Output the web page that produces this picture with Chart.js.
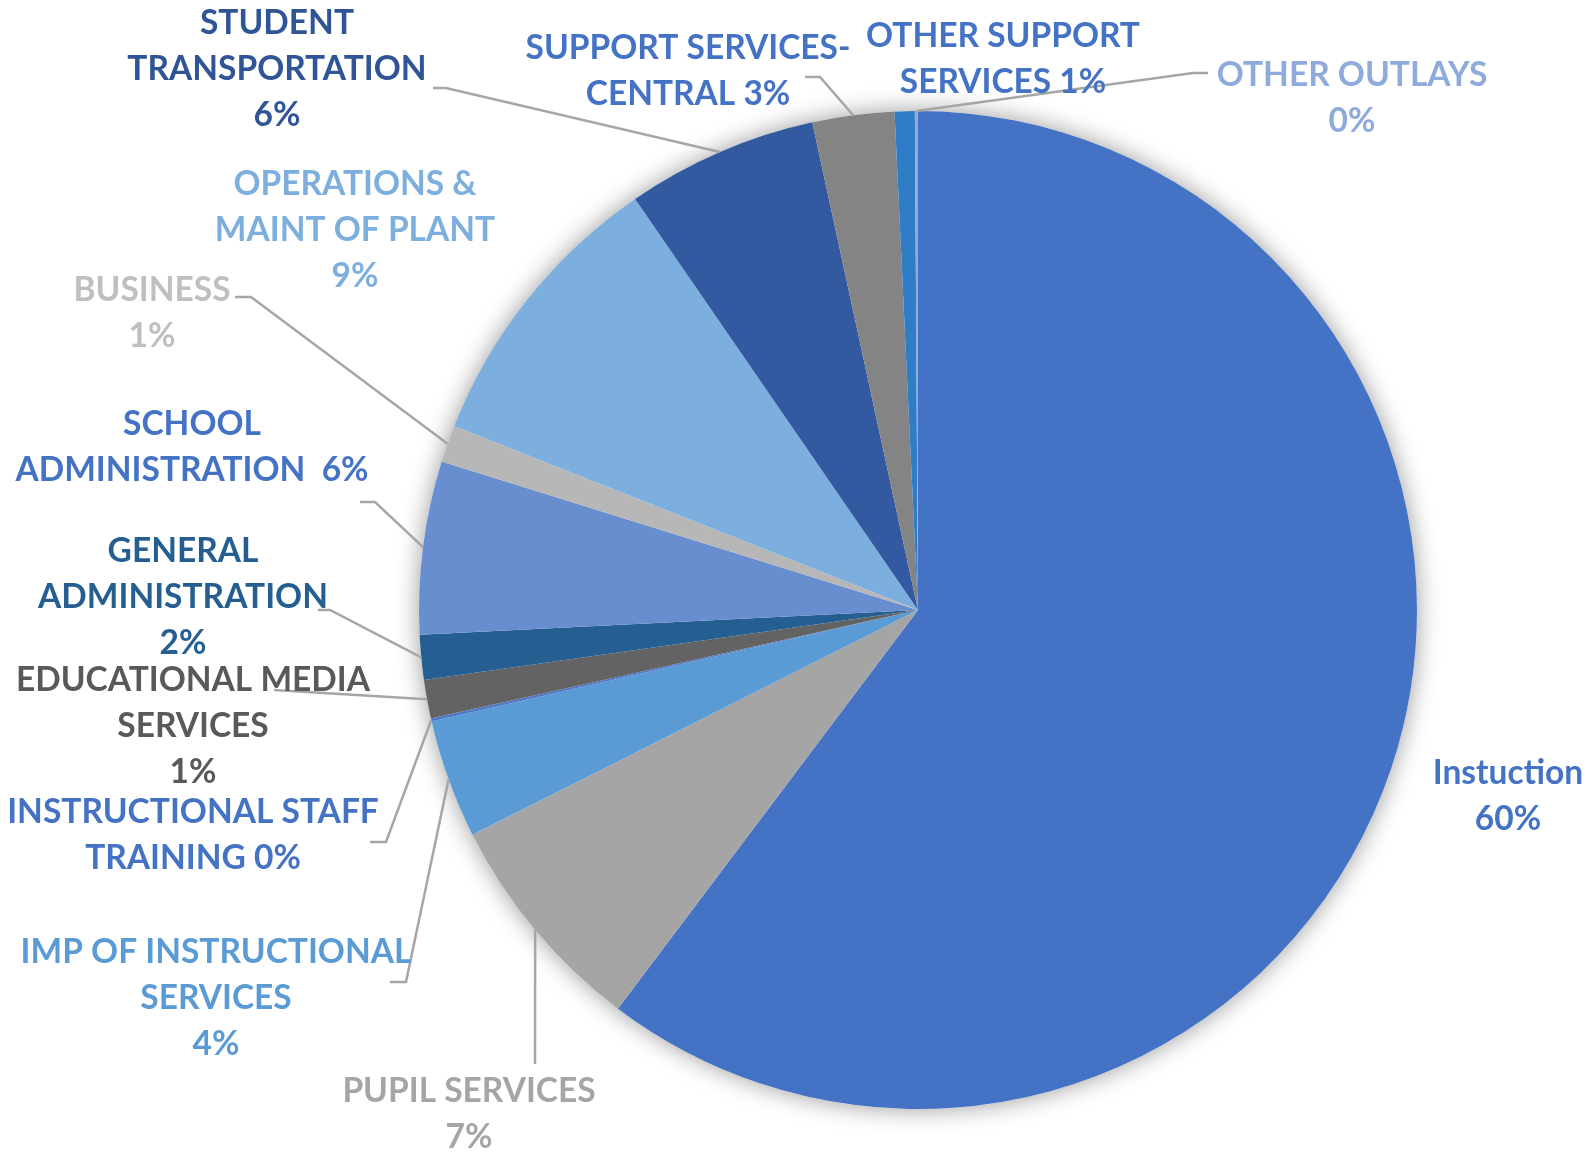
<!DOCTYPE html>
<html lang="en">
<head>
<meta charset="UTF-8">
<title>Expenditures by Function</title>
<script src="https://cdn.jsdelivr.net/npm/chart.js"></script>
<style>
  html, body { margin: 0; padding: 0; background: #fff; }
  canvas { display: block; }
</style>
</head>
<body>
<canvas id="pieChart" width="1591" height="1152"></canvas>
<script>
// slices, clockwise from 12 o'clock
const categories = [
    "Instuction",
    "PUPIL SERVICES",
    "IMP OF INSTRUCTIONAL SERVICES",
    "INSTRUCTIONAL STAFF TRAINING",
    "EDUCATIONAL MEDIA SERVICES",
    "GENERAL ADMINISTRATION",
    "SCHOOL ADMINISTRATION",
    "BUSINESS",
    "OPERATIONS & MAINT OF PLANT",
    "STUDENT TRANSPORTATION",
    "SUPPORT SERVICES-CENTRAL",
    "OTHER SUPPORT SERVICES",
    "OTHER OUTLAYS"
];
const shares = [60.3, 7.3, 3.85, 0.1, 1.25, 1.45, 5.6, 1.2, 9.4, 6.2, 2.65, 0.65, 0.1];
const pctLabels = ["60%", "7%", "4%", "0%", "1%", "2%", "6%", "1%", "9%", "6%", "3%", "1%", "0%"];

// how each label is broken into lines on the picture
const labelLines = [
    ["Instuction", "60%"],
    ["PUPIL SERVICES", "7%"],
    ["IMP OF INSTRUCTIONAL", "SERVICES", "4%"],
    ["INSTRUCTIONAL STAFF", "TRAINING 0%"],
    ["EDUCATIONAL MEDIA", "SERVICES", "1%"],
    ["GENERAL", "ADMINISTRATION", "2%"],
    ["SCHOOL", "ADMINISTRATION  6%"],
    ["BUSINESS", "1%"],
    ["OPERATIONS &", "MAINT OF PLANT", "9%"],
    ["STUDENT", "TRANSPORTATION", "6%"],
    ["SUPPORT SERVICES-", "CENTRAL 3%"],
    ["OTHER SUPPORT", "SERVICES 1%"],
    ["OTHER OUTLAYS", "0%"]
];

const sliceColors = [
    "#4472C4", "#A5A5A5", "#5B9BD5", "#4E79C9", "#636363", "#255E91", "#698ED0",
    "#B7B7B7", "#7CAFDD", "#335AA1", "#848484", "#2E7DC6", "#8FAADC"
];
const textColors = [
    "#4472C4", "#A5A5A5", "#5B9BD5", "#4472C4", "#595959", "#255E91", "#4472C4",
    "#BFBFBF", "#7CAFDD", "#2F5597", "#4472C4", "#4472C4", "#8FAADC"
];

// label placement: centre x, first line y, leader start & elbow (end = slice edge)
const labelPos = [
    { x: 1508, y: 773 },
    { x: 469, y: 1091, lead: [[535, 1064]] },
    { x: 216, y: 952, lead: [[390, 982], [406, 982]] },
    { x: 193, y: 812, lead: [[370, 842], [386, 842]] },
    { x: 193, y: 680, lead: [[274, 690]] },
    { x: 183, y: 551, lead: [[318, 610], [330, 610]] },
    { x: 192, y: 424, lead: [[360, 502], [375, 502]] },
    { x: 152, y: 290, lead: [[235, 297], [251, 297]] },
    { x: 355, y: 184 },
    { x: 277, y: 23, lead: [[433, 88], [446, 88]] },
    { x: 688, y: 48, lead: [[805, 77], [820, 77]] },
    { x: 1003, y: 36 },
    { x: 1352, y: 75, lead: [[1208, 73], [1193, 73]] }
];

const pieShadow = {
    id: "pieShadow",
    beforeDatasetsDraw(chart) {
        const arc = chart.getDatasetMeta(0).data[0];
        const ctx = chart.ctx;
        ctx.save();
        ctx.shadowColor = "rgba(0,0,0,0.4)";
        ctx.shadowBlur = 24;
        ctx.beginPath();
        ctx.arc(arc.x, arc.y, arc.outerRadius, 0, Math.PI * 2);
        ctx.fillStyle = "#fff";
        ctx.fill();
        ctx.restore();
    }
};

const sliceLabels = {
    id: "sliceLabels",
    afterDatasetsDraw(chart) {
        const ctx = chart.ctx;
        const arcs = chart.getDatasetMeta(0).data;
        ctx.save();
        // leader lines
        ctx.strokeStyle = "#A6A6A6";
        ctx.lineWidth = 2.5;
        arcs.forEach((arc, i) => {
            const p = labelPos[i];
            if (!p.lead) return;
            const mid = (arc.startAngle + arc.endAngle) / 2;
            const ex = arc.x + Math.cos(mid) * arc.outerRadius;
            const ey = arc.y + Math.sin(mid) * arc.outerRadius;
            ctx.beginPath();
            ctx.moveTo(p.lead[0][0], p.lead[0][1]);
            for (let k = 1; k < p.lead.length; k++) ctx.lineTo(p.lead[k][0], p.lead[k][1]);
            ctx.lineTo(ex, ey);
            ctx.stroke();
        });
        // texts
        ctx.font = "bold 33.5px Lato";
        ctx.textAlign = "center";
        ctx.textBaseline = "middle";
        labelLines.forEach((lines, i) => {
            ctx.fillStyle = textColors[i];
            lines.forEach((t, k) => {
                ctx.fillText(t, labelPos[i].x, labelPos[i].y + k * 46);
            });
        });
        ctx.restore();
    }
};

new Chart(document.getElementById("pieChart"), {
    type: "pie",
    data: {
        labels: categories,
        datasets: [{
            data: shares,
            backgroundColor: sliceColors,
            borderWidth: 0
        }]
    },
    options: {
        responsive: false,
        animation: false,
        events: [],
        layout: { padding: { top: 111, bottom: 43, left: 419, right: 174 } },
        plugins: {
            legend: { display: false },
            tooltip: { enabled: false }
        }
    },
    plugins: [pieShadow, sliceLabels]
});
</script>
</body>
</html>
